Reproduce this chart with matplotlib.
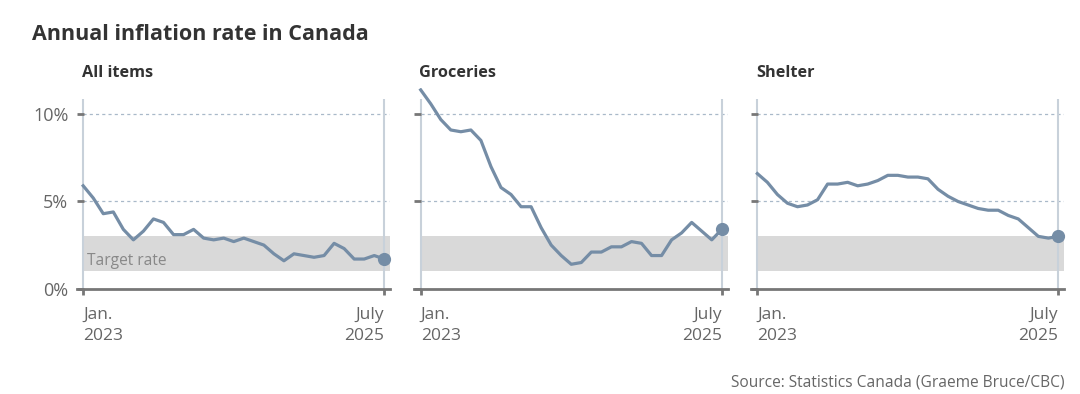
import numpy as np
import matplotlib
matplotlib.use("Agg")
import matplotlib.pyplot as plt

plt.rcParams["font.family"] = ["Open Sans", "DejaVu Sans"]

# monthly, Jan 2023 .. July 2025 (31 points)
months = np.arange(31)
all_items = [5.9, 5.2, 4.3, 4.4, 3.4, 2.8, 3.3, 4.0, 3.8, 3.1, 3.1, 3.4,
             2.9, 2.8, 2.9, 2.7, 2.9, 2.7, 2.5, 2.0, 1.6, 2.0, 1.9, 1.8,
             1.9, 2.6, 2.3, 1.7, 1.7, 1.9, 1.7]
groceries = [11.4, 10.6, 9.7, 9.1, 9.0, 9.1, 8.5, 7.0, 5.8, 5.4, 4.7, 4.7,
             3.5, 2.5, 1.9, 1.4, 1.5, 2.1, 2.1, 2.4, 2.4, 2.7, 2.6, 1.9,
             1.9, 2.8, 3.2, 3.8, 3.3, 2.8, 3.4]
shelter = [6.6, 6.1, 5.4, 4.9, 4.7, 4.8, 5.1, 6.0, 6.0, 6.1, 5.9, 6.0,
           6.2, 6.5, 6.5, 6.4, 6.4, 6.3, 5.7, 5.3, 5.0, 4.8, 4.6, 4.5,
           4.5, 4.2, 4.0, 3.5, 3.0, 2.9, 3.0]
panel_titles = ["All items", "Groceries", "Shelter"]
series = [all_items, groceries, shelter]
target_low, target_high = 1, 3
yticks = [0, 5, 10]
ytick_labels = ["0%", "5%", "10%"]
xtick_labels = ["Jan.\n2023", "July\n2025"]

LINE = "#758da6"
VLINE = "#c8d1da"
GRID = "#a9b9c9"
TXT = "#666666"
DARK = "#333333"

XL = (-0.65, 30.6)
x0_frac = (0 - XL[0]) / (XL[1] - XL[0])

fig = plt.figure(figsize=(10.8, 3.94), dpi=100)
lefts = [0.0710, 0.3835, 0.6952]
for k, (left, title, vals) in enumerate(zip(lefts, panel_titles, series)):
    ax = fig.add_axes([left, 0.2673, 0.2904, 0.509])
    ax.set_xlim(*XL)
    ax.set_ylim(0, 11.5)
    ax.axhspan(target_low, target_high, xmin=x0_frac, xmax=1, color="#d9d9d9", lw=0, zorder=0)
    for y in yticks[1:]:
        ax.hlines(y, 0, XL[1], colors=GRID, lw=0.9, linestyles=(0, (2.5, 2.5)), zorder=1)
    ax.vlines([months[0], months[-1]], 0, 10.9, colors=VLINE, lw=1.5, zorder=1)
    ax.plot(months, vals, color=LINE, lw=2.3, zorder=3, solid_joinstyle="round")
    ax.plot(months[-1], vals[-1], "o", color=LINE, ms=8.5, zorder=4, clip_on=False)

    for s in ["top", "right", "left"]:
        ax.spines[s].set_visible(False)
    ax.spines["bottom"].set_color("#777777")
    ax.spines["bottom"].set_linewidth(2)

    ax.set_yticks(yticks)
    ax.tick_params(axis="y", direction="in", length=4.7, width=2, color="#777777", pad=6)
    if k == 0:
        ax.set_yticklabels(ytick_labels, fontsize=13, color=TXT)
        ax.text(0.4, 1.6, "Target rate", fontsize=11.2, color="#888888", va="center", ha="left")
    else:
        ax.set_yticklabels([])

    ax.set_xticks([months[0], months[-1]])
    ax.set_xticklabels(xtick_labels, fontsize=12.5, color=TXT, linespacing=1.45)
    ax.tick_params(axis="x", direction="out", length=4, width=2, color="#777777", pad=9)
    labs = ax.get_xticklabels()
    labs[0].set_ha("left")
    labs[1].set_ha("right")

    ax.text(x0_frac - 0.004, 1.055, title, transform=ax.transAxes,
            fontsize=11.7, fontweight="bold", color=DARK, ha="left", va="baseline")

fig.text(0.0296, 0.912, "Annual inflation rate in Canada", fontsize=15.5, fontweight="bold",
         color=DARK, ha="left", va="center")
fig.text(0.986, 0.028, "Source: Statistics Canada (Graeme Bruce/CBC)", fontsize=11.2,
         color=TXT, ha="right", va="center")

fig.savefig("out.png", dpi=100)
